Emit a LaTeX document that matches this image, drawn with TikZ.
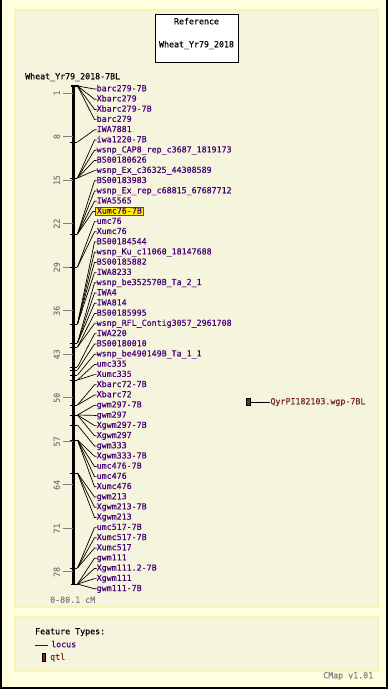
\documentclass[tikz,border=0pt]{standalone}
\usepackage{fontspec}
\newfontfamily\cmapfont[FakeBold=0.4]{DejaVu Sans Mono}
\usepackage{xcolor}
\usetikzlibrary{positioning}
\definecolor{pagebg}{RGB}{255,255,224}
\definecolor{panelbg}{RGB}{245,245,222}
\definecolor{panelrule}{RGB}{250,244,180}
\definecolor{locuscol}{RGB}{72,0,120}
\definecolor{qtlcol}{RGB}{120,36,36}
\definecolor{qtlfill}{RGB}{105,45,40}
\definecolor{scalecol}{RGB}{128,128,128}

\begin{document}
\begin{tikzpicture}[x=1pt,y=-1pt,
    every node/.style={font=\cmapfont\fontsize{8.3}{9}\selectfont,inner sep=0pt,text height=6pt,text depth=1.5pt},
    panel/.style={draw=panelrule,fill=panelbg,line width=1.2pt},
    locus/.style={anchor=west,text=locuscol},
    hilite/.style={locus,fill=yellow,draw=red,line width=0.8pt,inner xsep=1.5pt},
    link/.style={black,line width=0.7pt},
    cmtick/.style={scalecol,line width=1pt},
    cmlabel/.style={text=scalecol,rotate=90}]
    \useasboundingbox (0,0) rectangle (388,689);
    \fill[pagebg] (0,0) rectangle (388,689);
    \draw[line width=2pt] (1,0) -- (1,688) -- (387,688) -- (387,0);
    \draw[panel] (15,10) rectangle (378,607);
    \draw[panel] (15,617) rectangle (378,671);

    % reference box
    \node[draw,fill=white,line width=0.8pt,minimum width=83pt,minimum height=48pt] (refbox) at (196.5,38) {};
    \node (refhead) at (196.5,22) {Reference};
    \node (refname) at (196.5,45) {Wheat\_Yr79\_2018};
    \node[anchor=west] (mapname) at (25,77) {Wheat\_Yr79\_2018-7BL};

    % chromosome and scale
    \draw[line width=3pt] (73.5,85) -- (73.5,585);
    \draw[line width=1.5pt] (71,85.75) -- (79,85.75);
    \draw[line width=1.5pt] (71,584.25) -- (78,584.25);
    \foreach \cm in {1,8,15,22,29,36,43,50,57,64,71,78}{
        \draw[cmtick] (63,{86.8+6.22*\cm}) -- (73,{86.8+6.22*\cm});
        \node[cmlabel] (s\cm) at (57.5,{86.8+6.22*\cm}) {\cm};
    }
    \node[anchor=west,text=scalecol] (range) at (50,600.5) {0-80.1 cM};

    % loci on the map
    \foreach \f/\y in {0/86,1/142,2/178,3/234,4/267,5/324,6/343,7/347,8/367,9/370,
        10/375,11/380,12/405,13/415,14/425,15/440,16/473,17/568,18/584}
        \coordinate (f\f) at (77.5,\y);
    \foreach \y in {142,178,234,267,324,343,347,367,370,375,380,405,415,425,440,473,568}
        \draw[line width=1pt] (70,\y) -- (77,\y);

    \foreach \i/\name in {0/barc279-7B,1/Xbarc279,2/Xbarc279-7B,3/barc279,4/IWA7881,
        5/iwa1220-7B,6/wsnp\_CAP8\_rep\_c3687\_1819173,7/BS00180626,
        8/wsnp\_Ex\_c36325\_44308589,9/BS00183983,10/wsnp\_Ex\_rep\_c68815\_67687712,
        11/IWA5565,13/umc76,14/Xumc76,15/BS00184544,16/wsnp\_Ku\_c11060\_18147688,
        17/BS00185882,18/IWA8233,19/wsnp\_be352570B\_Ta\_2\_1,20/IWA4,21/IWA814,
        22/BS00185995,23/wsnp\_RFL\_Contig3057\_2961708,24/IWA220,25/BS00180010,
        26/wsnp\_be490149B\_Ta\_1\_1,27/umc335,28/Xumc335,29/Xbarc72-7B,30/Xbarc72,
        31/gwm297-7B,32/gwm297,33/Xgwm297-7B,34/Xgwm297,35/gwm333,36/Xgwm333-7B,
        37/umc476-7B,38/umc476,39/Xumc476,40/gwm213,41/Xgwm213-7B,42/Xgwm213,
        43/umc517-7B,44/Xumc517-7B,45/Xumc517,46/gwm111,47/Xgwm111.2-7B,48/Xgwm111,
        49/gwm111-7B}
        \node[locus] (l\i) at (96.5,{89+10.2*\i}) {\name};
    \node[hilite] (l12) at (95,{89+10.2*12}) {Xumc76-7B};

    \foreach \i/\f in {0/0,1/0,2/0,3/0,4/1,5/2,6/2,7/2,8/2,9/3,10/3,11/3,12/3,
        13/4,14/4,15/5,16/5,17/5,18/5,19/6,20/6,21/6,22/7,23/7,24/8,25/9,26/10,
        27/11,28/11,29/12,30/12,31/13,32/13,33/13,34/13,35/14,36/15,37/15,38/15,
        39/15,40/16,41/16,42/16,43/17,44/17,45/17,46/18,47/18,48/18,49/18}
        \draw[link] (f\f) -- ([xshift=-2pt]l\i.west) -- (l\i.west);

    % qtl
    \node[draw,fill=qtlfill,line width=0.6pt,minimum width=4pt,minimum height=7pt,text height=,text depth=] (qtlbar) at (248,402) {};
    \node[anchor=west,text=qtlcol,right=20pt of qtlbar] (qtlname) {QyrPI182103.wgp-7BL};
    \draw[link] (qtlbar) -- (qtlname);

    % legend
    \node[anchor=west] (legtitle) at (35,632) {Feature Types:};
    \coordinate (legline) at (35,645);
    \node[locus] (leglocus) at (51,645) {locus};
    \draw[locuscol,line width=1pt] (legline) -- ([xshift=-3.5pt]leglocus.west);
    \node[draw,fill=qtlfill,line width=0.6pt,minimum width=3pt,minimum height=8pt,text height=,text depth=] (legqtl) at (44,657.5) {};
    \node[anchor=west,text=qtlcol] (legqtlname) at (50,657.5) {qtl};
    \node[anchor=west,text=scalecol] (version) at (323,676) {CMap v1.01};
\end{tikzpicture}
\end{document}
